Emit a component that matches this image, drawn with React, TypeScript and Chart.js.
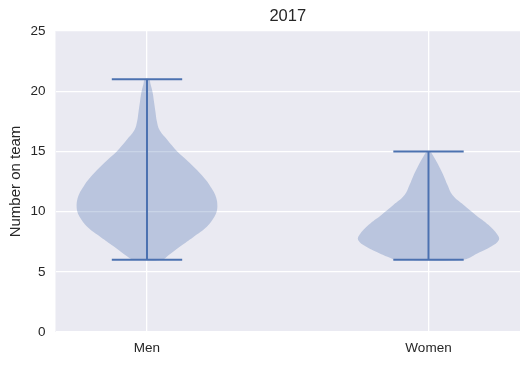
import React, { useEffect, useRef } from 'react';
import { Chart, registerables } from 'chart.js';

Chart.register(...registerables);

// ---- data ----
const chartTitle = '2017';
const yAxisLabel = 'Number on team';
const categories = ['Men', 'Women'];
const yTickValues = [0, 5, 10, 15, 20, 25];

// violin outlines: levels (number on team) and relative density (1 = widest)
const menLevels = [6.0, 6.4, 7.1, 7.9, 8.75, 9.6, 10.0, 10.5, 11.0, 11.5, 12.0, 12.6, 13.45, 14.25, 15.0, 15.95, 16.75, 17.5, 18.3, 19.1, 19.9, 20.6, 21.0];
const menDensity = [0.21, 0.31, 0.47, 0.66, 0.85, 0.96, 0.99, 1.0, 0.99, 0.96, 0.91, 0.84, 0.71, 0.57, 0.43, 0.29, 0.18, 0.14, 0.12, 0.10, 0.08, 0.05, 0.03];
const womenLevels = [6.0, 6.55, 7.1, 7.65, 8.07, 8.9, 9.72, 10.55, 11.38, 12.2, 13.04, 13.87, 14.7, 15.0];
const womenDensity = [0.48, 0.70, 0.89, 1.0, 0.98, 0.85, 0.67, 0.50, 0.34, 0.27, 0.21, 0.14, 0.06, 0.02];
const menRange = [6, 21];
const womenRange = [6, 15];

// ---- styles ----
const BLUE = '#4C72B0';
const FILL = 'rgba(76,114,176,0.3)';
const BG = '#EAEAF2';
const TEXT = '#262626';
const FONT = "'Liberation Sans', Arial, sans-serif";
const HALF_WIDTH = 0.25;
const CAP = 0.125;

function violinPoints(pos: number, levels: number[], dens: number[]) {
  const left = levels.map((y, i) => ({ x: pos - dens[i] * HALF_WIDTH, y }));
  const right = levels.map((y, i) => ({ x: pos + dens[i] * HALF_WIDTH, y })).reverse();
  return [...left, ...right, left[0]];
}

function statLines(pos: number, range: number[]) {
  const ds = (data: { x: number; y: number }[]) => ({
    data,
    borderColor: BLUE,
    borderWidth: 2,
    pointRadius: 0,
    fill: false,
    tension: 0,
  });
  return [
    ds([{ x: pos, y: range[0] }, { x: pos, y: range[1] }]),
    ds([{ x: pos - CAP, y: range[0] }, { x: pos + CAP, y: range[0] }]),
    ds([{ x: pos - CAP, y: range[1] }, { x: pos + CAP, y: range[1] }]),
  ];
}

const bgPlugin = {
  id: 'bg',
  beforeDraw(chart: any) {
    const { ctx, chartArea: a } = chart;
    ctx.save();
    ctx.fillStyle = BG;
    ctx.fillRect(a.left, a.top, a.right - a.left, a.bottom - a.top);
    ctx.restore();
  },
  afterDraw(chart: any) {
    const { ctx, chartArea: a } = chart;
    ctx.save();
    ctx.fillStyle = TEXT;
    ctx.font = `16.5px ${FONT}`;
    ctx.textAlign = 'center';
    ctx.textBaseline = 'middle';
    ctx.fillText(chartTitle, (a.left + a.right) / 2, 16);
    ctx.restore();
  },
};

export default function App() {
  const ref = useRef<HTMLCanvasElement>(null);
  useEffect(() => {
    if (!ref.current) return;
    const violins = [
      { pos: 1, levels: menLevels, dens: menDensity, range: menRange },
      { pos: 2, levels: womenLevels, dens: womenDensity, range: womenRange },
    ];
    const datasets: any[] = [];
    violins.forEach((v) => {
      datasets.push({
        data: violinPoints(v.pos, v.levels, v.dens),
        borderColor: 'rgba(0,0,0,0)',
        backgroundColor: FILL,
        borderWidth: 0,
        pointRadius: 0,
        fill: 'shape',
        tension: 0.4,
      });
    });
    violins.forEach((v) => datasets.push(...statLines(v.pos, v.range)));

    const chart = new Chart(ref.current, {
      type: 'line',
      data: { datasets },
      options: {
        animation: false,
        responsive: false,
        devicePixelRatio: 1,
        parsing: false as any,
        layout: { padding: { top: 31, right: 9, left: 0, bottom: 0 } },
        plugins: { legend: { display: false }, tooltip: { enabled: false }, title: { display: false } },
        scales: {
          x: {
            type: 'linear',
            min: 0.675,
            max: 2.325,
            afterBuildTicks: (scale: any) => {
              scale.ticks = categories.map((_, i) => ({ value: i + 1 }));
            },
            afterFit: (scale: any) => {
              scale.height = 34;
            },
            ticks: {
              autoSkip: false,
              maxRotation: 0,
              padding: 8,
              color: TEXT,
              font: { family: FONT, size: 13.5 },
              callback: (v: any) => categories[Math.round(Number(v)) - 1] ?? '',
            },
            grid: { color: '#ffffff', lineWidth: 1.3, drawTicks: false },
            border: { display: false },
          },
          y: {
            type: 'linear',
            min: 0,
            max: 25,
            afterBuildTicks: (scale: any) => {
              scale.ticks = yTickValues.map((v) => ({ value: v }));
            },
            afterFit: (scale: any) => {
              scale.width = 55.5;
            },
            ticks: {
              padding: 10,
              color: TEXT,
              font: { family: FONT, size: 13.5 },
            },
            grid: { color: '#ffffff', lineWidth: 1.3, drawTicks: false },
            border: { display: false },
            title: {
              display: true,
              text: yAxisLabel,
              color: TEXT,
              font: { family: FONT, size: 15 },
              padding: { top: 7, bottom: 0 },
            },
          },
        },
      },
      plugins: [bgPlugin],
    });
    return () => chart.destroy();
  }, []);

  return (
    <div style={{ position: 'absolute', left: 0, top: 0, width: 529, height: 366, background: '#fff' }}>
      <canvas ref={ref} width={529} height={366} style={{ display: 'block' }} />
    </div>
  );
}
